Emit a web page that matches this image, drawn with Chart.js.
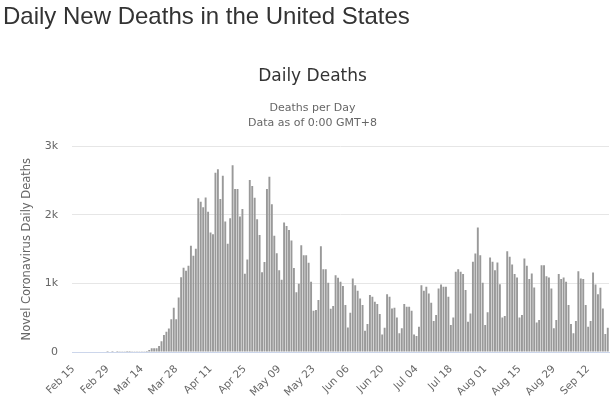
<!DOCTYPE html>
<html lang="en">
<head>
  <meta charset="UTF-8">
  <title>Daily New Deaths in the United States</title>
  <script src="https://cdn.jsdelivr.net/npm/chart.js"></script>
  <style>
    html, body { margin: 0; padding: 0; background: #fff; }
    body { width: 613px; height: 398px; position: relative; overflow: hidden; }
    h1 {
      position: absolute; left: 3px; top: 4px; margin: 0; z-index: 2;
      font: 400 24px/24px "Liberation Sans", Arial, sans-serif;
      color: #333;
    }
    .chart-box { position: absolute; left: 0; top: 0; width: 613px; height: 398px; }
  </style>
</head>
<body>

<h1>Daily New Deaths in the United States</h1>
<div class="chart-box"><canvas id="deathsChart" width="613" height="398"></canvas></div>

<script>
  // first day on the axis (year, month 1-12, day), one bar per day after it
  const startDate = [2020, 2, 15];

  // daily deaths
  const deaths = [
    0, 0, 0, 0, 0, 0, 0, 0, 0, 0, 0, 0, 0, 0, 1, 0, 1, 0, 1, 2, 3, 2, 1, 1, 3, 3, 2, 5, 4,
    10, 15, 29, 53, 53, 53, 87, 155, 247, 296, 344, 476, 645, 476,
    794, 1089, 1229, 1186, 1258, 1549, 1404, 1505, 2241, 2193, 2110, 2255, 2047, 1742, 1718,
    2614, 2667, 2231, 2570, 1902, 1578, 1950, 2725, 2376, 2376, 1975, 2086, 1142, 1350,
    2507, 2420, 2251, 1936, 1708, 1162, 1312, 2376, 2555, 2154, 1694, 1442, 1191, 1055,
    1888, 1839, 1781, 1626, 1225, 871, 997,
    1558, 1412, 1412, 1300, 1024, 602, 611, 757, 1543, 1208, 1208, 1009, 631, 670,
    1121, 1082, 1024, 961, 684, 359, 573, 1072, 975, 893, 781, 684, 311, 408,
    830, 806, 733, 699, 553, 257, 354, 844, 806, 636, 645, 505, 272, 345,
    699, 660, 660, 602, 257, 233, 369, 975, 893, 951, 854, 718, 451, 539, 927,
    985, 951, 951, 806, 393, 505, 1170, 1208, 1170, 1136, 903, 442, 563,
    1315, 1436, 1815, 1412, 1009, 393, 578, 1378, 1315, 1194, 1305, 990, 505, 524,
    1470, 1388, 1276, 1136, 1087, 505, 539, 1364, 1257, 1063, 1145, 941, 432, 466,
    1267, 1267, 1106, 1087, 927, 345, 466, 1136, 1063, 1087, 1024, 684, 408, 272,
    451, 1179, 1072, 1063, 684, 369, 451, 1160, 985, 844, 937, 636, 262, 354
  ];

  const tickLabels = ['Feb 15', 'Feb 29', 'Mar 14', 'Mar 28', 'Apr 11', 'Apr 25', 'May 09',
    'May 23', 'Jun 06', 'Jun 20', 'Jul 04', 'Jul 18', 'Aug 01', 'Aug 15', 'Aug 29', 'Sep 12'];
  const yTicks = [0, 1000, 2000, 3000];

  const monthNames = ['Jan', 'Feb', 'Mar', 'Apr', 'May', 'Jun', 'Jul', 'Aug', 'Sep', 'Oct', 'Nov', 'Dec'];
  const days = deaths.map((_, i) => {
    const d = new Date(startDate[0], startDate[1] - 1, startDate[2] + i);
    return monthNames[d.getMonth()] + ' ' + String(d.getDate()).padStart(2, '0');
  });

  const fontFamily = '"DejaVu Sans", "Lucida Grande", sans-serif';

  new Chart(document.getElementById('deathsChart'), {
    type: 'bar',
    data: {
      labels: days,
      datasets: [{
        label: 'Daily Deaths',
        data: deaths,
        backgroundColor: '#999999',
        barPercentage: 0.78,
        categoryPercentage: 1.0
      }]
    },
    options: {
      responsive: false,
      animation: false,
      maintainAspectRatio: false,
      layout: { padding: { left: 16, right: 4, top: 66, bottom: 0 } },
      plugins: {
        legend: { display: false },
        tooltip: { enabled: false },
        title: {
          display: true,
          text: 'Daily Deaths',
          color: '#333',
          font: { family: fontFamily, size: 17, weight: 'normal' },
          padding: { top: 0, bottom: 14 }
        },
        subtitle: {
          display: true,
          text: ['Deaths per Day', 'Data as of 0:00 GMT+8'],
          color: '#666',
          font: { family: fontFamily, size: 11, lineHeight: 1.36 },
          padding: { top: 0, bottom: 16 }
        }
      },
      scales: {
        x: {
          grid: { display: false, drawTicks: false },
          border: { color: '#ccd6eb', width: 1 },
          ticks: {
            autoSkip: false,
            minRotation: 45,
            maxRotation: 45,
            padding: 11,
            labelOffset: 0,
            color: '#666',
            font: { family: fontFamily, size: 10.5 },
            callback: function (value, index) {
              const lab = days[index];
              return tickLabels.includes(lab) ? lab : '';
            }
          },
          afterFit: function (scale) {
            scale.height = 46;
            scale.paddingLeft = 0;
            scale.paddingRight = 0;
          }
        },
        y: {
          min: 0,
          max: 3000,
          afterBuildTicks: function (scale) { scale.ticks = yTicks.map(v => ({ value: v })); },
          grid: { color: '#e6e6e6', drawTicks: false },
          border: { display: false },
          ticks: {
            padding: 14,
            color: '#666',
            font: { family: fontFamily, size: 11 },
            callback: v => v === 0 ? '0' : (v / 1000) + 'k'
          },
          title: {
            display: true,
            text: 'Novel Coronavirus Daily Deaths',
            color: '#666',
            font: { family: fontFamily, size: 11.5 },
            padding: { top: 4, bottom: 4 }
          },
          afterFit: function (scale) { scale.width = 56; }
        }
      }
    }
  });
</script>

</body>
</html>
